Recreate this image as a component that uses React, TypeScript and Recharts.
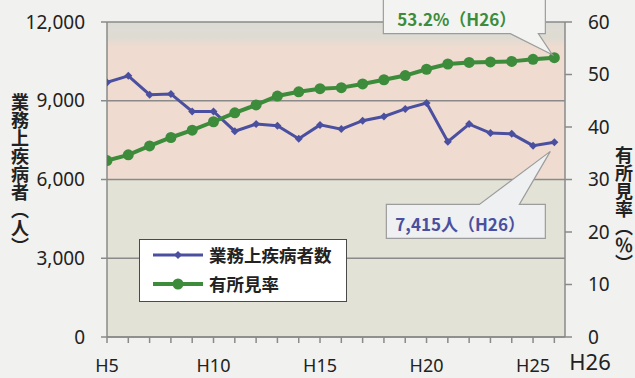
import React from 'react';
import { ComposedChart, Line, XAxis, YAxis, CartesianGrid, Legend, LabelList } from 'recharts';

const years = [5, 6, 7, 8, 9, 10, 11, 12, 13, 14, 15, 16, 17, 18, 19, 20, 21, 22, 23, 24, 25, 26];
const diseaseCounts = [9700, 9950, 9230, 9260, 8590, 8590, 7840, 8110, 8050, 7550, 8080, 7920, 8240, 8400, 8690, 8910, 7440, 8110, 7770, 7740, 7290, 7415];
const findingRates = [33.6, 34.7, 36.4, 38.0, 39.4, 41.0, 42.7, 44.2, 45.9, 46.7, 47.3, 47.5, 48.2, 49.0, 49.8, 51.0, 52.0, 52.3, 52.4, 52.5, 52.9, 53.2];
const countTicks = [0, 3000, 6000, 9000, 12000];
const rateTicks = [0, 10, 20, 30, 40, 50, 60];
const labeledYears = [5, 10, 15, 20, 25];
const seriesNames = ['業務上疾病者数', '有所見率'];
const leftTitle = '業務上疾病者（人）';
const rightTitle = '有所見率（％）';
const lastYearLabel = 'H26';
const countCallout = '7,415人（H26）';
const rateCallout = '53.2%（H26）';

const data = years.map((y, i) => ({ year: y, count: diseaseCounts[i], rate: findingRates[i] }));

const BLUE = '#4a509f';
const GREEN = '#3d8c3b';
const AXIS = '#8a8a8a';
const TEXT = '#222';
const PINK = '#efdbd0';
const LOWER = '#e3e2d6';
const TICK_FONT = '"Noto Sans", sans-serif';
const CJK_FONT = '"Noto Sans CJK JP", sans-serif';
const lastIndex = years.length - 1;

const DiamondDot = (props: any) => {
  const { cx, cy, index } = props;
  if (cx == null || cy == null) return <g key={`d-${index}`} />;
  const s = 4;
  return <path key={`d-${index}`} d={`M${cx},${cy - s}L${cx + s},${cy}L${cx},${cy + s}L${cx - s},${cy}Z`} fill={BLUE} />;
};

const getPoint = (props: any) => {
  const vb = props.viewBox || {};
  const px = vb.x != null ? vb.x : props.x;
  const py = vb.y != null ? vb.y : props.y;
  return { px, py };
};

const RateCallout = (props: any) => {
  const isLast = props.index === lastIndex || (props.index == null && props.value === findingRates[lastIndex]);
  if (!isLast) return null;
  const { px, py } = getPoint(props);
  const L = px - 171, R = px - 9, T = py - 80, B = py - 24;
  const d = `M${L},${T}H${R}V${B}H${px - 16}L${px - 2},${py - 3}L${px - 44},${B}H${L}Z`;
  return (
    <g>
      <path d={d} fill="#f3f4f2" stroke="#9c9c9c" strokeWidth={1.2} />
      <text x={L + 14} y={py - 32} fill={GREEN} fontFamily={CJK_FONT} fontSize={17} fontWeight={600}>{rateCallout}</text>
    </g>
  );
};

const CountCallout = (props: any) => {
  const isLast = props.index === lastIndex || (props.index == null && props.value === diseaseCounts[lastIndex]);
  if (!isLast) return null;
  const { px, py } = getPoint(props);
  const L = px - 168, R = px - 9, T = py + 62, B = py + 96;
  const d = `M${L},${T}H${px - 75}L${px - 4},${py + 9}L${px - 35},${T}H${R}V${B}H${L}Z`;
  return (
    <g>
      <path d={d} fill="#eef0f1" stroke="#9c9c9c" strokeWidth={1.2} />
      <text x={L + 9} y={py + 89} fill={BLUE} fontFamily={CJK_FONT} fontSize={17} fontWeight={600}>{countCallout}</text>
    </g>
  );
};

const renderLeftTitle = () => (
  <text x={20} y={93} fill={TEXT} fontFamily={CJK_FONT} fontSize={18} fontWeight={600} style={{ writingMode: 'vertical-rl' } as any}>
    {leftTitle}
  </text>
);

const renderRightTitle = () => (
  <text x={624} y={146} fill={TEXT} fontFamily={CJK_FONT} fontSize={18} fontWeight={600} style={{ writingMode: 'vertical-rl' } as any}>
    {rightTitle}
  </text>
);

const renderLastYear = (props: any) => {
  const vb = props.viewBox || { x: 107, y: 337, width: 458, height: 41 };
  return (
    <text x={vb.x + vb.width + 25} y={vb.y + 33} textAnchor="middle" fill={TEXT} fontFamily={TICK_FONT} fontSize={22}>
      {lastYearLabel}
    </text>
  );
};

const renderLegend = (props: any) => {
  const raw = props.payload && props.payload.length ? props.payload : [
    { value: seriesNames[0], color: BLUE, dataKey: 'count' },
    { value: seriesNames[1], color: GREEN, dataKey: 'rate' },
  ];
  const payload = [...raw].sort((a: any, b: any) => (a.dataKey === 'count' ? -1 : 1) - (b.dataKey === 'count' ? -1 : 1));
  return (
    <div style={{ position: 'relative', width: 208, height: 63, boxSizing: 'border-box', background: '#ffffff', border: '1.3px solid #4a4a4a' }}>
      {payload.map((entry: any, i: number) => {
        const isCount = entry.dataKey === 'count';
        const color = isCount ? BLUE : GREEN;
        return (
          <div key={i} style={{ position: 'absolute', left: 12, top: 4 + i * 29, height: 22, display: 'flex', alignItems: 'center' }}>
            <svg width={52} height={16} style={{ display: 'block' }}>
              <line x1={1} y1={8} x2={51} y2={8} stroke={color} strokeWidth={isCount ? 3 : 4} />
              {isCount ? (
                <path d="M26,4L30,8L26,12L22,8Z" fill={color} />
              ) : (
                <circle cx={26} cy={8} r={5.5} fill={color} />
              )}
            </svg>
            <span style={{ marginLeft: 5, fontFamily: CJK_FONT, fontSize: 17.5, fontWeight: 600, color: TEXT, lineHeight: '22px' }}>{entry.value}</span>
          </div>
        );
      })}
    </div>
  );
};

export default function App() {
  return (
    <div style={{ position: 'absolute', left: 0, top: 0, width: 635, height: 378, background: '#f1f1ef' }}>
      <ComposedChart width={635} height={378} data={data} margin={{ top: 22, right: 0, bottom: 0, left: 0 }}>
        <defs>
          <linearGradient id="topBand" x1="0" y1="0" x2="0" y2="1">
            <stop offset="0" stopColor="#dcdcd4" />
            <stop offset="0.2" stopColor="#dfdbd3" />
            <stop offset="0.32" stopColor={PINK} />
            <stop offset="1" stopColor={PINK} />
          </linearGradient>
        </defs>
        <CartesianGrid
          yAxisId="left"
          vertical={false}
          stroke={AXIS}
          strokeWidth={1.5}
          horizontalFill={['url(#topBand)', PINK, LOWER, LOWER]}
          fillOpacity={1}
        />
        <XAxis
          dataKey="year"
          type="number"
          domain={[5, 26.5]}
          ticks={years}
          interval={0}
          allowDataOverflow
          height={41}
          tickFormatter={(v: number) => (labeledYears.includes(v) ? `H${v}` : '')}
          tick={{ fontFamily: TICK_FONT, fontSize: 18, fill: TEXT }}
          tickSize={6}
          tickMargin={16}
          stroke={AXIS}
          axisLine={{ stroke: AXIS, strokeWidth: 1.5 }}
          tickLine={{ stroke: AXIS, strokeWidth: 1.5 }}
          label={renderLastYear}
        />
        <YAxis
          yAxisId="left"
          orientation="left"
          width={107}
          domain={[0, 12000]}
          ticks={countTicks}
          interval={0}
          tickFormatter={(v: number) => v.toLocaleString('en-US')}
          tick={{ fontFamily: TICK_FONT, fontSize: 19, fill: TEXT }}
          tickSize={6}
          tickMargin={16}
          axisLine={{ stroke: AXIS, strokeWidth: 1.5 }}
          tickLine={{ stroke: AXIS, strokeWidth: 1.5 }}
          label={renderLeftTitle}
        />
        <YAxis
          yAxisId="right"
          orientation="right"
          width={70}
          domain={[0, 60]}
          ticks={rateTicks}
          interval={0}
          tick={{ fontFamily: TICK_FONT, fontSize: 19, fill: TEXT, textAnchor: 'start' }}
          tickSize={7}
          tickMargin={16}
          axisLine={{ stroke: AXIS, strokeWidth: 1.5 }}
          tickLine={{ stroke: AXIS, strokeWidth: 1.5 }}
          label={renderRightTitle}
        />
        <Line
          yAxisId="left"
          type="linear"
          dataKey="count"
          name={seriesNames[0]}
          stroke={BLUE}
          strokeWidth={3}
          dot={DiamondDot}
          activeDot={false}
          isAnimationActive={false}
        >
          <LabelList dataKey="count" content={CountCallout} />
        </Line>
        <Line
          yAxisId="right"
          type="linear"
          dataKey="rate"
          name={seriesNames[1]}
          stroke={GREEN}
          strokeWidth={4}
          dot={{ r: 5.5, fill: GREEN, stroke: 'none' }}
          activeDot={false}
          isAnimationActive={false}
        >
          <LabelList dataKey="rate" content={RateCallout} />
        </Line>
        <Legend
          layout="vertical"
          align="center"
          verticalAlign="middle"
          content={renderLegend}
          wrapperStyle={{ left: 139, top: 239, width: 208, height: 63 }}
        />
      </ComposedChart>
    </div>
  );
}
